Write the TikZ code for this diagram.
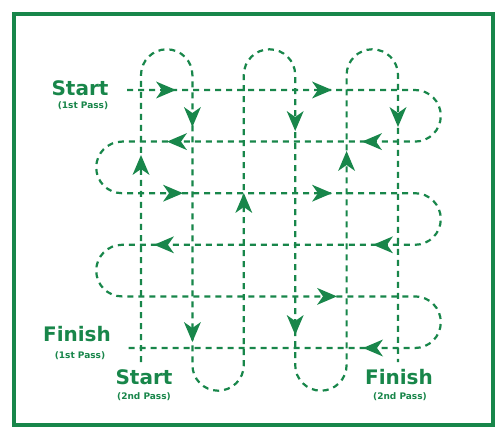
\documentclass[tikz,border=0pt]{standalone}
\usepackage{fontspec}
\newfontfamily\lab{DejaVu Sans}
\definecolor{gr}{RGB}{24,134,74}
\begin{document}
\begin{tikzpicture}[x=1pt,y=1pt,
  pass/.style={draw=gr,line width=2.2pt,dash pattern=on 6pt off 5pt},
  big/.style={font=\lab\bfseries\fontsize{20}{20}\selectfont,text=gr,inner sep=0pt,anchor=base},
  small/.style={font=\lab\bfseries\fontsize{9}{10}\selectfont,text=gr,inner sep=0pt,anchor=base},
  arr/.pic={\fill[gr] (10,0) -- (-10,8.5) -- (-4,0) -- (-10,-8.5) -- cycle;}]
\useasboundingbox (0,0) rectangle (500,-430);
\fill[white] (0,0) rectangle (500,-430);
\draw[gr,line width=4pt] (14,-14) rectangle (493,-425);

% labels
\node[big] (start1) at (80,-96) {Start};
\node[small] (start1s) at (83,-109) {(1st Pass)};
\node[big] (fin1) at (77,-341) {Finish};
\node[small] (fin1s) at (80,-358) {(1st Pass)};
\node[big] (start2) at (144,-384) {Start};
\node[small] (start2s) at (144,-399) {(2nd Pass)};
\node[big] (fin2) at (399,-384) {Finish};
\node[small] (fin2s) at (400,-399) {(2nd Pass)};

% first pass (rows)
\coordinate (a0) at (127,-90);
\coordinate (a1) at (127,-348);
\draw[pass] (a0) -- (415,-90) arc[start angle=90,end angle=-90,radius=25.8pt]
  -- (122,-141.6) arc[start angle=90,end angle=270,radius=25.8pt]
  -- (415,-193.2) arc[start angle=90,end angle=-90,radius=25.8pt]
  -- (122,-244.8) arc[start angle=90,end angle=270,radius=25.8pt]
  -- (415,-296.4) arc[start angle=90,end angle=-90,radius=25.8pt]
  -- (a1);

% second pass (columns)
\coordinate (b0) at (141,-362);
\coordinate (b1) at (398,-362);
\draw[pass] (b0) -- (141,-75) arc[start angle=180,end angle=0,radius=25.7pt]
  -- (192.4,-365) arc[start angle=180,end angle=360,radius=25.7pt]
  -- (243.8,-75) arc[start angle=180,end angle=0,radius=25.7pt]
  -- (295.2,-365) arc[start angle=180,end angle=360,radius=25.7pt]
  -- (346.6,-75) arc[start angle=180,end angle=0,radius=25.7pt]
  -- (b1);

% arrowheads on rows
\pic[rotate=0] at (166,-90) {arr};
\pic[rotate=0] at (322,-90) {arr};
\pic[rotate=180] at (177,-141.6) {arr};
\pic[rotate=180] at (372,-141.6) {arr};
\pic[rotate=0] at (173,-193.2) {arr};
\pic[rotate=0] at (322,-193.2) {arr};
\pic[rotate=180] at (164,-244.8) {arr};
\pic[rotate=180] at (383,-244.8) {arr};
\pic[rotate=0] at (327,-296.4) {arr};
\pic[rotate=180] at (373,-348) {arr};
% arrowheads on columns
\pic[rotate=90] at (141,-165) {arr};
\pic[rotate=-90] at (192.4,-117) {arr};
\pic[rotate=-90] at (192.4,-332) {arr};
\pic[rotate=90] at (243.8,-203) {arr};
\pic[rotate=-90] at (295.2,-121) {arr};
\pic[rotate=-90] at (295.2,-325) {arr};
\pic[rotate=90] at (346.6,-161) {arr};
\pic[rotate=-90] at (398,-117) {arr};
\end{tikzpicture}
\end{document}
